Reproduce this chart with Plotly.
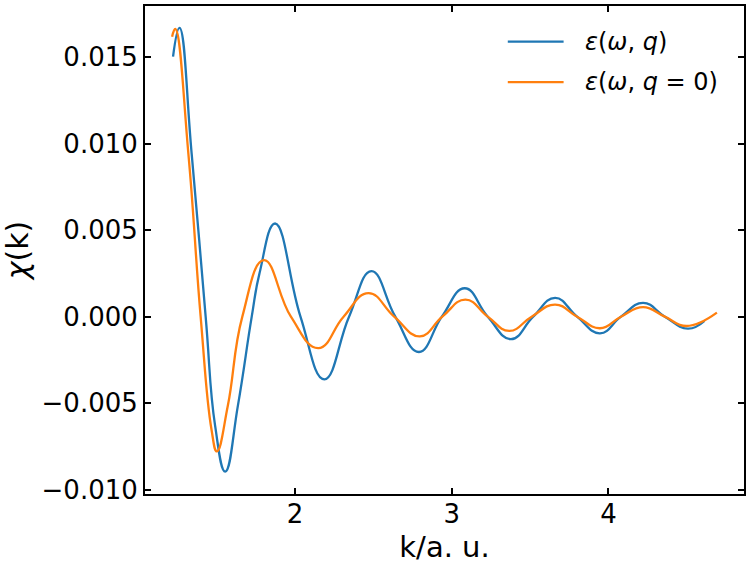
import plotly.graph_objects as go

# ---- data (extrema, zero crossings, key points) ----
k_q = [1.222, 1.263, 1.341, 1.430, 1.490, 1.555, 1.636, 1.724, 1.774, 1.873,
       2.035, 2.187, 2.345, 2.488, 2.640, 2.791, 2.937, 3.083, 3.230, 3.378,
       3.520, 3.660, 3.800, 3.946, 4.080, 4.221, 4.360, 4.507, 4.613]
chi_q = [0.01502, 0.01668, 0.00939, 0.00000, -0.00628, -0.00895, -0.00512, 0.00000, 0.00252, 0.00538,
         0.00000, -0.00362, 0.00000, 0.00263, 0.00000, -0.00204, 0.00000, 0.00164, 0.00000, -0.00130,
         0.00000, 0.00109, 0.00000, -0.00096, 0.00000, 0.00080, 0.00000, -0.00069, -0.00025]

k_q0 = [1.216, 1.236, 1.320, 1.398, 1.467, 1.502, 1.572, 1.664, 1.802, 1.974,
        2.149, 2.310, 2.469, 2.633, 2.797, 2.940, 3.088, 3.230, 3.367, 3.510,
        3.660, 3.800, 3.946, 4.080, 4.221, 4.360, 4.497, 4.692]
chi_q0 = [0.01617, 0.01662, 0.00939, 0.00000, -0.00650, -0.00778, -0.00512, 0.00000, 0.00326, 0.00000,
          -0.00182, 0.00000, 0.00136, 0.00000, -0.00114, 0.00000, 0.00099, 0.00000, -0.00082, 0.00000,
          0.00070, 0.00000, -0.00067, 0.00000, 0.00055, 0.00000, -0.00054, 0.00023]

x_ticks = [2, 3, 4]
y_ticks = [-0.010, -0.005, 0.000, 0.005, 0.010, 0.015]
names = ["<i>ε</i>(<i>ω</i>, <i>q</i>)", "<i>ε</i>(<i>ω</i>, <i>q</i> = 0)"]
colors = ["#1f77b4", "#ff7f0e"]

FONT = "DejaVu Sans"

fig = go.Figure()
fig.add_trace(go.Scatter(x=k_q, y=chi_q, mode="lines", name=names[0],
                         line=dict(color=colors[0], width=2.3, shape="spline", smoothing=1.3)))
fig.add_trace(go.Scatter(x=k_q0, y=chi_q0, mode="lines", name=names[1],
                         line=dict(color=colors[1], width=2.3, shape="spline", smoothing=1.3)))

# manual legend (matplotlib style)
L, T, W, H = 145, 4, 601, 492
def px(x): return (x - L) / W
def py(y): return 1 - (y - T) / H
for i, (nm, c) in enumerate(zip(names, colors)):
    yy = 40 + i * 40.7
    fig.add_shape(type="line", xref="paper", yref="paper",
                  x0=px(509), x1=px(565), y0=py(yy), y1=py(yy),
                  line=dict(color=c, width=2.3))
    fig.add_annotation(xref="paper", yref="paper", x=px(584), y=py(yy),
                       xanchor="left", yanchor="middle", text=nm, showarrow=False,
                       font=dict(family=FONT, size=24, color="black"))

axis_common = dict(showline=True, linecolor="black", linewidth=2, mirror="allticks",
                   ticks="inside", ticklen=6, tickwidth=1.5, tickcolor="black",
                   showgrid=False, zeroline=False,
                   tickfont=dict(family=FONT, size=26, color="black"))

fig.update_layout(
    width=750, height=564,
    margin=dict(l=L, r=750 - L - W, t=T, b=564 - T - H),
    paper_bgcolor="white", plot_bgcolor="white",
    showlegend=False,
    xaxis=dict(range=[1.043, 4.865], tickvals=x_ticks, ticktext=[str(v) for v in x_ticks],
               ticklabelstandoff=-4,
               title=dict(text="k/a. u.", font=dict(family=FONT, size=29, color="black"), standoff=10),
               **axis_common),
    yaxis=dict(range=[-0.01024, 0.01794], tickvals=y_ticks, tickformat=".3f",
               title=dict(text="<i>χ</i>(k)", font=dict(family=FONT, size=30, color="black"), standoff=6),
               **axis_common),
)

fig.write_html("out.html")
